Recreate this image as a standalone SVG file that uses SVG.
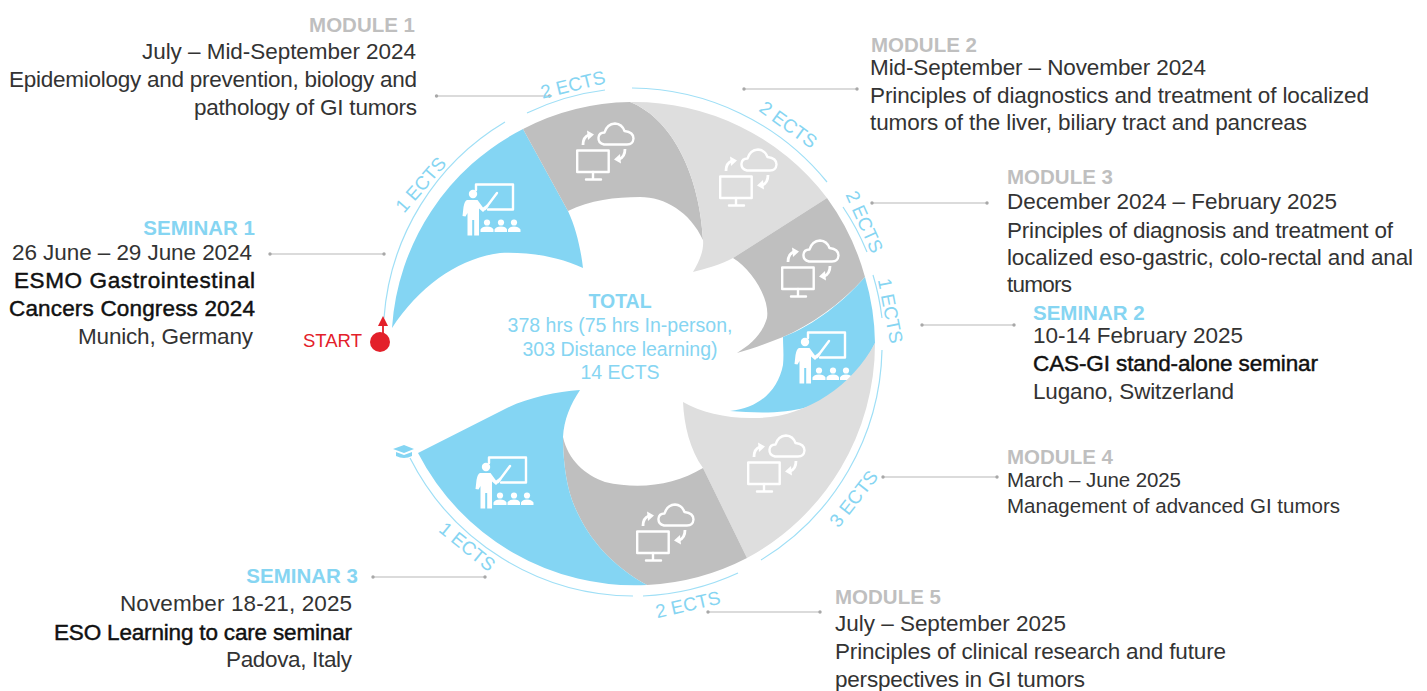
<svg xmlns="http://www.w3.org/2000/svg" width="1427" height="691" viewBox="0 0 1427 691">
<style>
text{font-family:"Liberation Sans",Arial,sans-serif}
.t{font-size:22.5px;fill:#333}
.s{font-size:20.5px;fill:#333}
.b{font-size:22.5px;fill:#111;stroke:#111;stroke-width:.45px}
.mh{font-size:20.5px;font-weight:700;fill:#bfbfbf}
.sh{font-size:20.5px;font-weight:700;fill:#86d5f2}
.e{text-anchor:end}
.c{font-size:19.5px;fill:#86d5f2;text-anchor:middle}
.ects{font-size:18.800px;fill:#86d5f2;text-anchor:middle}
.blue{fill:#84d5f3}.dark{fill:#bfbfbf}.light{fill:#dedede}
.ring{fill:none;stroke:#9fdff6;stroke-width:1.2}
.lead{fill:none;stroke:#cfcfcf;stroke-width:1.4;marker-start:url(#dot);marker-end:url(#dot)}
.ico{fill:none;stroke:#fff;stroke-width:2.4;stroke-linecap:round;stroke-linejoin:round}
.arr{fill:none;stroke:#fff;stroke-width:2.800}
.icf{fill:#fff}
</style>
<defs>
<marker id="dot" markerUnits="userSpaceOnUse" markerWidth="5" markerHeight="5" refX="2.5" refY="2.5"><circle cx="2.5" cy="2.5" r="1.7" fill="#a8a8a8"/></marker>
<g id="teacher">
<path class="ico" d="M14 7V1.500H51V26.500H26"/>
<path class="ico" stroke-width="1.800" d="M23 26L35 10"/>
<circle class="icf" cx="11" cy="11" r="4.200"/>
<path class="icf" d="M5 17H15.500L21 24.500L25 21.500L26.500 23.500L21 29L17 25.500V52.500H12.200V37H10.200V52.500H5.500V30L3.500 33.500L0.500 33L1.500 24Q2.500 18 5 17Z"/>
<circle class="icf" cx="25" cy="39.500" r="3.100"/><circle class="icf" cx="39" cy="39.500" r="3.100"/><circle class="icf" cx="52" cy="39.500" r="3.100"/>
<path class="icf" d="M18.500 49V46.500Q20 43.500 25 43.500T31.500 46.500V49ZM32.500 49V46.500Q34 43.500 39 43.500T45 46.500V49ZM46 49V46.500Q47.500 43.500 52 43.500T58.500 46.500V49Z"/>
</g>
<g id="cloud">
<rect class="ico" x="1.200" y="28.500" width="31.500" height="21.500"/>
<path class="ico" d="M17 50V57M10 57.500H25"/>
<path class="ico" d="M28 22.500Q22 21 22.500 15.500Q23 10.500 28.500 10.500Q31 2 39 1.500Q46 2 48.500 9Q57.500 10 57.500 16.500Q57 22.500 51 22.500Z"/>
<path class="arr" d="M7 23Q7 15 13 12.800"/><path class="icf" d="M11 8.500L18 12.500L12 18Z"/>
<path class="arr" d="M49 27Q49 35 43 37.200"/><path class="icf" d="M45 41.500L38 37.500L44 32Z"/>
</g>
</defs>
<rect width="1427" height="691" fill="#fff"/>
<g id="connectors">
<path class="ring" d="M384 318A249 249 0 0 1 505 122"/>
<path class="ring" d="M527 113A252 252 0 0 1 605 90"/>
<path class="ring" d="M632 88A254 254 0 0 1 827 182"/>
<path class="ring" d="M843 207A252 252 0 0 1 867 252"/>
<path class="ring" d="M873 275A250 250 0 0 1 882 318"/>
<path class="ring" d="M882 350A252 252 0 0 1 761 560"/>
<path class="ring" d="M738 573A254 254 0 0 1 643 596"/>
<path class="ring" d="M633 596A252 252 0 0 1 410 458"/>
<path class="lead" d="M436.500 96H549.500"/>
<path class="lead" d="M744 89H857"/>
<path class="lead" d="M872 203H987"/>
<path class="lead" d="M270 254H384"/>
<path class="lead" d="M922 325H1014"/>
<path class="lead" d="M373 577H485"/>
<path class="lead" d="M883 477H997"/>
<path class="lead" d="M708 612H820"/>
<path fill="none" stroke="#e3202a" stroke-width="1.800" d="M383 335V322"/>
<path fill="#e3202a" d="M383 316L388 326H378Z"/>
</g>
<g id="seminar-1">
<path class="blue" d="M392 328A241 241 0 0 1 523 129L568 211C576 228 581 250 583 268C555 255 525 252 500 253C460 258 420 285 392 328Z"/>
<use href="#teacher" x="462" y="183"/>
<text class="sh e" x="255" y="235">SEMINAR 1</text>
<text class="t e" x="252" y="260" textLength="240">26 June – 29 June 2024</text>
<text class="b e" x="255" y="288" textLength="241">ESMO Gastrointestinal</text>
<text class="b e" x="255" y="316" textLength="246">Cancers Congress 2024</text>
<text class="t e" x="253" y="344" textLength="175">Munich, Germany</text>
<text class="ects" transform="translate(421 185) rotate(-49)" x="0" y="6">1 ECTS</text>
</g>
<g id="module-1">
<path class="dark" d="M523 129A241 241 0 0 1 630 102C675 120 700 180 703 240C690 212 665 197 640 197C615 197 590 200 568 211Z"/>
<use href="#cloud" x="576" y="122"/>
<text class="mh e" x="415" y="32">MODULE 1</text>
<text class="t e" x="416" y="59" textLength="274">July – Mid-September 2024</text>
<text class="t e" x="417" y="87" textLength="408">Epidemiology and prevention, biology and</text>
<text class="t e" x="417" y="115" textLength="223">pathology of GI tumors</text>
<text class="ects" transform="translate(573 85) rotate(-14)" x="0" y="6">2 ECTS</text>
</g>
<g id="module-2">
<path class="light" d="M630 102A242 242 0 0 1 827 198L733 258C720 265 705 269 693 272C700 260 704 250 703 240C700 180 675 120 630 102Z"/>
<use href="#cloud" x="719" y="148"/>
<text class="mh" x="871" y="52">MODULE 2</text>
<text class="t" x="870" y="75" textLength="336">Mid-September – November 2024</text>
<text class="t" x="870" y="103" textLength="499">Principles of diagnostics and treatment of localized</text>
<text class="t" x="870" y="130" textLength="437">tumors of the liver, biliary tract and pancreas</text>
<text class="ects" transform="translate(788 125) rotate(36)" x="0" y="6">2 ECTS</text>
</g>
<g id="module-3">
<path class="dark" d="M827 198A242 242 0 0 1 865 277C840 305 810 325 783 337C768 343 752 349 737 353C750 345 762 335 767 318C770 298 752 270 733 258Z"/>
<use href="#cloud" x="781" y="239"/>
<text class="mh" x="1007" y="184">MODULE 3</text>
<text class="t" x="1007" y="209" textLength="330">December 2024 – February 2025</text>
<text class="t" x="1007" y="238" textLength="386">Principles of diagnosis and treatment of</text>
<text class="t" x="1007" y="265" textLength="406">localized eso-gastric, colo-rectal and anal</text>
<text class="t" x="1007" y="292" textLength="65">tumors</text>
<text class="ects" transform="translate(864 222) rotate(66)" x="0" y="6">2 ECTS</text>
</g>
<g id="seminar-2">
<path class="blue" d="M865 277A242 242 0 0 1 875 343C860 375 835 397 807 407C785 414 755 413 730 411C760 408 778 390 783 365C784 355 783 345 783 337C815 325 845 300 865 277Z"/>
<use href="#teacher" x="794" y="331"/>
<text class="sh" x="1033" y="320">SEMINAR 2</text>
<text class="t" x="1033" y="343" textLength="210">10-14 February 2025</text>
<text class="b" x="1033" y="371" textLength="285">CAS-GI stand-alone seminar</text>
<text class="t" x="1033" y="399" textLength="201">Lugano, Switzerland</text>
<text class="ects" transform="translate(890 311) rotate(79)" x="0" y="6">1 ECTS</text>
</g>
<g id="module-4">
<path class="light" d="M875 343A244 244 0 0 1 747 558L703 468C690 450 684 425 683 402C700 412 725 418 750 418C800 420 850 390 875 343Z"/>
<use href="#cloud" x="747" y="434"/>
<text class="mh" x="1007" y="464">MODULE 4</text>
<text class="s" x="1007" y="487" textLength="174">March – June 2025</text>
<text class="s" x="1007" y="513" textLength="333">Management of advanced GI tumors</text>
<text class="ects" transform="translate(854 499) rotate(-52)" x="0" y="6">3 ECTS</text>
</g>
<g id="module-5">
<path class="dark" d="M747 558A244 244 0 0 1 647 585C610 565 585 535 572 500C565 480 563 455 563 437C568 460 585 475 605 482C640 490 675 485 703 468Z"/>
<use href="#cloud" x="636" y="503"/>
<text class="mh" x="835" y="604">MODULE 5</text>
<text class="t" x="835" y="631" textLength="231">July – September 2025</text>
<text class="t" x="835" y="659" textLength="391">Principles of clinical research and future</text>
<text class="t" x="835" y="687" textLength="250">perspectives in GI tumors</text>
<text class="ects" transform="translate(688 605) rotate(-13)" x="0" y="6">2 ECTS</text>
</g>
<g id="seminar-3">
<path class="blue" d="M418 453L503 410C525 398 555 392 580 390C570 405 564 420 563 437C563 455 565 480 572 500C585 535 610 565 647 585A244 244 0 0 1 418 453Z"/>
<use href="#teacher" x="475" y="456"/>
<path fill="#84d5f3" d="M393 449L404 445L414 449L404 453ZM396 452L404 455L412 452V456Q404 460 396 456Z"/>
<text class="sh e" x="358" y="583">SEMINAR 3</text>
<text class="t e" x="352" y="611" textLength="232">November 18-21, 2025</text>
<text class="b e" x="352" y="640" textLength="298">ESO Learning to care seminar</text>
<text class="t e" x="352" y="667" textLength="126">Padova, Italy</text>
<text class="ects" transform="translate(467 547) rotate(39)" x="0" y="6">1 ECTS</text>
</g>
<g id="start">
<circle cx="380" cy="342" r="10" fill="#e3202a"/>
<text x="303" y="347" font-size="18.500" fill="#e3202a">START</text>
</g>
<g id="total">
<text class="c" x="620" y="308" font-weight="700">TOTAL</text>
<text class="c" x="620" y="332" textLength="225">378 hrs (75 hrs In-person,</text>
<text class="c" x="620" y="356" textLength="195">303 Distance learning)</text>
<text class="c" x="620" y="379">14 ECTS</text>
</g>
</svg>
